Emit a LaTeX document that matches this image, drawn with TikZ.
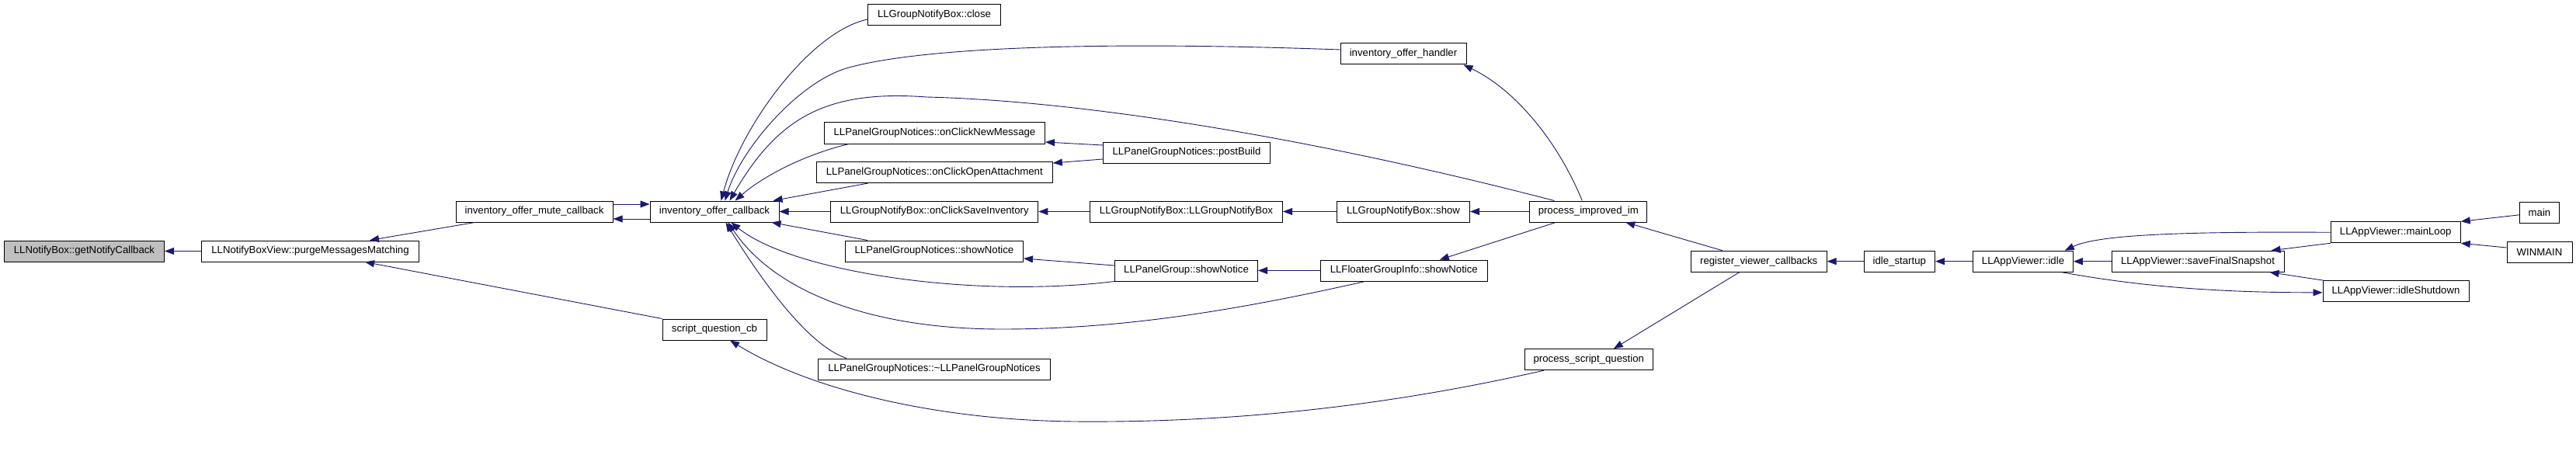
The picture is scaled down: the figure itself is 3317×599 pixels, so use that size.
\documentclass[tikz,border=0pt]{standalone}
\usepackage{fontspec}
\setmainfont{Liberation Sans}
\usetikzlibrary{arrows.meta,calc}
\definecolor{edgeblue}{HTML}{191970}
\definecolor{grey75}{HTML}{BFBFBF}

\begin{document}
\begin{tikzpicture}[x=1pt,y=-1pt,
	box/.style={draw,line width=1pt,minimum height=27pt,inner sep=0pt,font=\fontsize{13.2}{15}\selectfont},
	call/.style={draw=edgeblue,line width=0.9pt,-{Triangle[length=12pt,width=9pt]}}]
			\useasboundingbox (0,0) rectangle (3317,599);
			%functions
			\node (gnc) at (108.5,323.5) [box,fill=grey75,minimum width=206pt]{LLNotifyBox::getNotifyCallback};
			\node (pmm) at (399.5,323.5) [box,minimum width=280pt]{LLNotifyBoxView::purgeMessagesMatching};
			\node (iomc) at (688,272.5) [box,minimum width=202pt]{inventory\_offer\_mute\_callback};
			\node (ioc) at (920,272.5) [box,minimum width=166pt]{inventory\_offer\_callback};
			\node (sqc) at (920,424.5) [box,minimum width=134pt]{script\_question\_cb};
			\node (gnbclose) at (1203,19) [box,minimum width=171pt]{LLGroupNotifyBox::close};
			\node (pgnnew) at (1203.5,171.5) [box,minimum width=284pt]{LLPanelGroupNotices::onClickNewMessage};
			\node (pgnopen) at (1203.3,222) [box,minimum width=304pt]{LLPanelGroupNotices::onClickOpenAttachment};
			\node (gnbsave) at (1203.3,272.5) [box,minimum width=267pt]{LLGroupNotifyBox::onClickSaveInventory};
			\node (pgnshow) at (1203,323.5) [box,minimum width=229pt]{LLPanelGroupNotices::showNotice};
			\node (pgndtor) at (1203,475.5) [box,minimum width=299pt]{LLPanelGroupNotices::\textasciitilde LLPanelGroupNotices};
			\node (pgnpost) at (1528,196.5) [box,minimum width=215pt]{LLPanelGroupNotices::postBuild};
			\node (gnbctor) at (1527.5,272.5) [box,minimum width=248pt]{LLGroupNotifyBox::LLGroupNotifyBox};
			\node (pgshow) at (1527.5,348.5) [box,minimum width=184pt]{LLPanelGroup::showNotice};
			\node (ioh) at (1807,69.5) [box,minimum width=162pt]{inventory\_offer\_handler};
			\node (gnbshow) at (1807,272.5) [box,minimum width=171pt]{LLGroupNotifyBox::show};
			\node (fgishow) at (1807.8,348.5) [box,minimum width=215pt]{LLFloaterGroupInfo::showNotice};
			\node (pim) at (2045.3,272.5) [box,minimum width=151pt]{process\_improved\_im};
			\node (psq) at (2045.8,463.2) [box,minimum width=165pt]{process\_script\_question};
			\node (rvc) at (2264.7,336.7) [box,minimum width=175pt]{register\_viewer\_callbacks};
			\node (istart) at (2445.8,336.7) [box,minimum width=91.5pt]{idle\_startup};
			\node (avidle) at (2605,336.7) [box,minimum width=128.6pt]{LLAppViewer::idle};
			\node (avsave) at (2830,336.7) [box,minimum width=222pt]{LLAppViewer::saveFinalSnapshot};
			\node (avloop) at (3084.7,299.3) [box,minimum width=167pt]{LLAppViewer::mainLoop};
			\node (avshut) at (3085,375.3) [box,minimum width=188pt]{LLAppViewer::idleShutdown};
			\node (main) at (3270,273.8) [box,minimum width=51pt]{main};
			\node (winmain) at (3270,325) [box,minimum width=84pt]{WINMAIN};
			
			%straight calls
			\foreach \from/\to in {pmm/gnc, gnbsave/ioc, gnbctor/gnbsave, gnbshow/gnbctor, pim/gnbshow, fgishow/pgshow, istart/rvc, avidle/istart, avsave/avidle}{
				\draw[call] (\from) -- (\to);
			}
			\draw[call] ($(iomc.east)+(0,-9.5)$) -- ($(ioc.west)+(0,-9.5)$);
			\draw[call] ($(ioc.west)+(0,9.5)$) -- ($(iomc.east)+(0,9.5)$);
			\draw[call] ($(iomc.south west)+(25,0)$) -- ($(pmm.north east)+(-64,0)$);
			\draw[call] (sqc.north west) -- ($(pmm.south east)+(-70,0)$);
			\draw[call] ($(pgnpost.west)+(0,-9.5)$) -- ($(pgnnew.east)+(0,11.5)$);
			\draw[call] ($(pgnpost.west)+(0,8.5)$) -- ($(pgnopen.east)+(0,-12)$);
			\draw[call] ($(pgshow.west)+(0,-6.5)$) -- ($(pgnshow.east)+(0,9.5)$);
			\draw[call] ($(pgnopen.south west)+(67,0)$) -- ($(ioc.north east)+(-8,0)$);
			\draw[call] ($(pgnshow.north west)+(29,0)$) -- ($(ioc.south east)+(-10,0)$);
			\draw[call] ($(pim.south west)+(34,0)$) -- ($(fgishow.north east)+(-62,0)$);
			\draw[call] ($(rvc.north west)+(41,0)$) -- ($(pim.south east)+(-28,0)$);
			\draw[call] ($(rvc.south west)+(63,0)$) -- ($(psq.north west)+(115,0)$);
			\draw[call] (avloop.south west) -- ($(avsave.north east)+(-17,0)$);
			\draw[call] ($(avshut.north west)+(2,0)$) -- ($(avsave.south east)+(-19,0)$);
			\draw[call] ($(main.west)+(0,3)$) -- (avloop.north east);
			\draw[call] ($(winmain.west)+(0,-6)$) -- (avloop.south east);
			
			%curved calls
			\draw[call] ($(gnbclose.west)+(0,6)$) .. controls (1045,40) and (955,160) .. ($(ioc.north west)+(92,0)$);
			\draw[call] ($(ioh.west)+(0,-5.5)$) .. controls (1450,54) and (1200,58) .. (1093,87) .. controls (1030,104) and (955,190) .. ($(ioc.north west)+(97,0)$);
			\draw[call] ($(pim.north west)+(32,0)$) .. controls (1700,180) and (1400,130) .. (1193,125) .. controls (1060,115) and (1000,155) .. ($(ioc.north west)+(103,0)$);
			\draw[call] ($(pgnnew.south west)+(32,0)$) .. controls (1040,198) and (985,225) .. ($(ioc.north west)+(110,0)$);
			\draw[call] (pgshow.south west) .. controls (1250,385) and (1020,350) .. ($(ioc.south west)+(105,0)$);
			\draw[call] ($(fgishow.south west)+(58,0)$) .. controls (1600,398) and (1450,424) .. (1290,424) .. controls (1130,424) and (1000,380) .. ($(ioc.south west)+(101,0)$);
			\draw[call] ($(pgndtor.north west)+(37,0)$) .. controls (1040,445) and (980,360) .. ($(ioc.south west)+(98,0)$);
			\draw[call] ($(pim.north west)+(68,0)$) .. controls (2005,180) and (1950,115) .. ($(ioh.south east)+(-4,0)$);
			\draw[call] ($(psq.south west)+(25,0)$) .. controls (1800,520) and (1600,545) .. (1383,543) .. controls (1200,541) and (1040,500) .. ($(sqc.south)+(20,0)$);
			\draw[call] (avloop.west) .. controls (2800,298) and (2700,303) .. ($(avidle.north east)+(-11,0)$);
			\draw[call] ($(avidle.south east)+(-15,0)$) .. controls (2750,368) and (2850,377) .. ($(avshut.west)+(0,1.5)$);
		\end{tikzpicture}
\end{document}
